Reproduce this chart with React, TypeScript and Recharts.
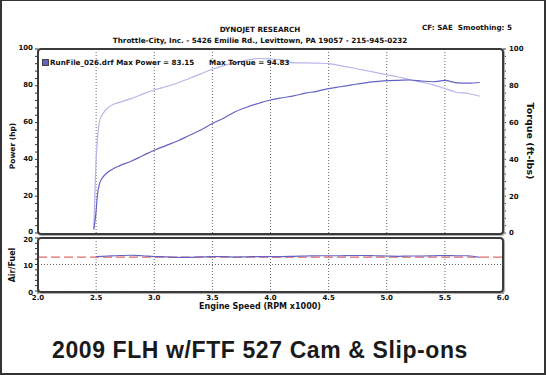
import { LineChart, Line, XAxis, YAxis, CartesianGrid, ReferenceLine } from 'recharts'

// ── dyno run data ───────────────────────────────────────────────────────────

const rpmPoints = [
  2.48, 2.5, 2.51, 2.53, 2.56, 2.6, 2.65, 2.7, 2.8, 2.9, 3.0, 3.1, 3.2, 3.3,
  3.4, 3.5, 3.6, 3.7, 3.8, 3.9, 4.0, 4.1, 4.2, 4.3, 4.4, 4.5, 4.6, 4.7, 4.8,
  4.9, 5.0, 5.1, 5.2, 5.3, 5.4, 5.5, 5.6, 5.7, 5.8,
]
const powerHp = [
  2, 12, 20, 27, 30.5, 33, 35, 36.5, 39, 42, 45, 47.5, 50, 53, 56, 59.5, 62.5,
  66, 68.5, 70.5, 72.3, 73.5, 74.5, 76, 77, 78.5, 79.5, 80.5, 81.5, 82.3, 82.8,
  83, 83.15, 82.6, 82.2, 82.9, 81.6, 81.4, 81.8,
]
const torqueFtLb = [
  2, 40, 50, 61, 65, 68, 70, 71, 73, 75.5, 77.7, 79.5, 81.5, 84, 86.5, 89, 91,
  92.5, 94, 94.83, 94.6, 94, 92.5, 92.5, 92.3, 92, 91, 89.8, 88.5, 87.3, 86,
  84.8, 83.3, 82, 80.5, 78.5, 76.5, 75.8, 74.3,
]

const afrRpm = [
  2.5, 2.6, 2.7, 2.8, 2.9, 3.0, 3.1, 3.2, 3.3, 3.4, 3.5, 3.6, 3.7, 3.8, 3.9,
  4.0, 4.1, 4.2, 4.3, 4.4, 4.5, 4.6, 4.7, 4.8, 4.9, 5.0, 5.1, 5.2, 5.3, 5.4,
  5.5, 5.6, 5.7, 5.8,
]
const afrValues = [
  13.0, 13.2, 13.4, 13.5, 13.3, 13.0, 12.9, 12.7, 12.7, 12.9, 13.0, 13.0, 12.8,
  12.9, 13.0, 13.0, 13.0, 13.1, 13.2, 13.3, 13.3, 13.3, 13.4, 13.4, 13.3, 13.2,
  13.1, 13.2, 13.2, 13.3, 13.4, 13.3, 13.3, 12.7,
]
const afrTarget = 12.8

const gridRpm = [2.5, 3.0, 3.5, 4.0, 4.5, 5.0, 5.5]
const gridPower = [20, 40, 60, 80]
const gridAfr = [10]

const xTicks = Array.from({ length: 41 }, (_, i) => +(2 + i * 0.1).toFixed(1))
const mainTicks = Array.from({ length: 26 }, (_, i) => i * 4)
const afrTicks = Array.from({ length: 11 }, (_, i) => i * 2)

const runData = rpmPoints.map((rpm, i) => ({
  rpm,
  hp: powerHp[i],
  tq: torqueFtLb[i],
}))
const afrData = afrRpm.map((rpm, i) => ({ rpm, afr: afrValues[i] }))

// ── styling ────────────────────────────────────────────────────────────────

const FONT = '"DejaVu Sans", Verdana, sans-serif'
const tickStyle = { fontSize: 7, fontWeight: 700, fill: '#111', fontFamily: FONT }
const POWER = '#6463c4'
const TORQUE = '#b7b6ea'

const txt = (extra: React.CSSProperties): React.CSSProperties => ({
  position: 'absolute',
  fontFamily: FONT,
  fontWeight: 700,
  fontSize: 7.2,
  color: '#111',
  whiteSpace: 'nowrap',
  lineHeight: 1,
  ...extra,
})

const frame = (left: number, top: number, width: number, height: number): React.CSSProperties => ({
  position: 'absolute',
  left,
  top,
  width,
  height,
  boxSizing: 'border-box',
  border: '2px solid #3a3a3a',
  borderRadius: 4,
  boxShadow: '1px 1px 1px #aaa',
  pointerEvents: 'none',
})

export default function App() {
  return (
    <div
      style={{
        position: 'absolute',
        left: 0,
        top: 0,
        width: 546,
        height: 375,
        background: '#fff',
        overflow: 'hidden',
      }}
    >
      {/* header */}
      <div style={txt({ left: 260, top: 25.5, transform: 'translateX(-50%)' })}>DYNOJET RESEARCH</div>
      <div style={txt({ left: 260, top: 36.5, transform: 'translateX(-50%)' })}>
        Throttle-City, Inc. - 5426 Emilie Rd., Levittown, PA 19057 - 215-945-0232
      </div>
      <div style={txt({ right: 34, top: 23.5 })}>CF: SAE&nbsp; Smoothing: 5</div>

      {/* power / torque */}
      <div style={{ position: 'absolute', left: 0, top: 0 }}>
        <LineChart
          width={546}
          height={250}
          data={runData}
          margin={{ top: 49, right: 13, bottom: 17, left: 8 }}
        >
          <CartesianGrid
            stroke="#666"
            strokeDasharray="1 2"
            horizontalValues={gridPower}
            verticalValues={gridRpm}
          />
          <XAxis dataKey="rpm" type="number" domain={[2, 6]} hide />
          <YAxis
            yAxisId="hp"
            domain={[0, 100]}
            ticks={mainTicks}
            interval={0}
            width={30}
            axisLine={false}
            tickSize={3}
            tickMargin={2}
            tickLine={{ stroke: '#333' }}
            tick={{ ...tickStyle, dy: -1 }}
            tickFormatter={(v: number) => (v % 20 === 0 ? String(v) : '')}
          />
          <YAxis
            yAxisId="tq"
            orientation="right"
            domain={[0, 100]}
            ticks={mainTicks}
            interval={0}
            width={30}
            axisLine={false}
            tickSize={3}
            tickMargin={3}
            tickLine={{ stroke: '#333' }}
            tick={tickStyle}
            tickFormatter={(v: number) => (v % 20 === 0 ? String(v) : '')}
          />
          <Line
            yAxisId="tq"
            dataKey="tq"
            type="monotone"
            stroke={TORQUE}
            strokeWidth={1.2}
            dot={false}
            isAnimationActive={false}
          />
          <Line
            yAxisId="hp"
            dataKey="hp"
            type="monotone"
            stroke={POWER}
            strokeWidth={1.2}
            dot={false}
            isAnimationActive={false}
          />
        </LineChart>
      </div>
      <div style={frame(37, 48, 467, 187)} />

      {/* run legend */}
      <div
        style={{
          position: 'absolute',
          left: 42,
          top: 59,
          width: 5,
          height: 5,
          background: POWER,
          border: '1px solid #444',
        }}
      />
      <div style={txt({ left: 50, top: 58.5 })}>RunFile_026.drf Max Power = 83.15</div>
      <div style={txt({ left: 209, top: 58.5 })}>Max Torque = 94.83</div>

      {/* air / fuel */}
      <div style={{ position: 'absolute', left: 0, top: 230 }}>
        <LineChart
          width={546}
          height={90}
          data={afrData}
          margin={{ top: 8, right: 43, bottom: 0, left: 8 }}
        >
          <CartesianGrid
            stroke="#666"
            strokeDasharray="1 2"
            horizontalValues={gridAfr}
            verticalValues={gridRpm}
          />
          <XAxis
            dataKey="rpm"
            type="number"
            domain={[2, 6]}
            ticks={xTicks}
            interval={0}
            height={29}
            axisLine={false}
            tickSize={3}
            tickMargin={1}
            tickLine={{ stroke: '#333' }}
            tick={tickStyle}
            tickFormatter={(v: number) =>
              Math.round(v * 10) % 5 === 0 ? v.toFixed(1) : ''
            }
          />
          <YAxis
            domain={[0, 20]}
            ticks={afrTicks}
            interval={0}
            width={30}
            axisLine={false}
            tickSize={3}
            tickMargin={2}
            tickLine={{ stroke: '#333' }}
            tick={{ ...tickStyle, dy: 1.5 }}
            tickFormatter={(v: number) => (v % 10 === 0 ? String(v) : '')}
          />
          <ReferenceLine y={afrTarget} stroke="#e06a6a" strokeWidth={1.3} strokeDasharray="9 4" />
          <Line
            dataKey="afr"
            type="monotone"
            stroke={POWER}
            strokeWidth={1.2}
            dot={false}
            isAnimationActive={false}
          />
        </LineChart>
      </div>
      <div style={frame(37, 237, 467, 56)} />

      {/* axis titles */}
      <div style={txt({ left: 13, top: 146, fontSize: 7.5, transform: 'translate(-50%, -50%) rotate(-90deg)' })}>
        Power (hp)
      </div>
      <div style={txt({ left: 530, top: 141, fontSize: 9.5, transform: 'translate(-50%, -50%) rotate(90deg)' })}>
        Torque (ft-lbs)
      </div>
      <div style={txt({ left: 13, top: 265, fontSize: 8, transform: 'translate(-50%, -50%) rotate(-90deg)' })}>
        Air/Fuel
      </div>
      <div style={txt({ left: 260, top: 307, fontSize: 8, transform: 'translate(-50%, -50%)' })}>
        Engine Speed (RPM x1000)
      </div>

      {/* caption */}
      <div
        style={{
          position: 'absolute',
          left: 260,
          top: 350,
          transform: 'translate(-50%, -50%)',
          fontFamily: '"Liberation Sans", Arial, sans-serif',
          fontWeight: 700,
          fontSize: 23,
          letterSpacing: 0.6,
          color: '#1a1a1a',
          whiteSpace: 'nowrap',
        }}
      >
        2009 FLH w/FTF 527 Cam &amp; Slip-ons
      </div>

      {/* sheet border */}
      <div
        style={{
          position: 'absolute',
          inset: 0,
          boxSizing: 'border-box',
          borderStyle: 'solid',
          borderColor: '#333',
          borderWidth: '1px 2px 2px 2px',
          pointerEvents: 'none',
        }}
      />
    </div>
  )
}
